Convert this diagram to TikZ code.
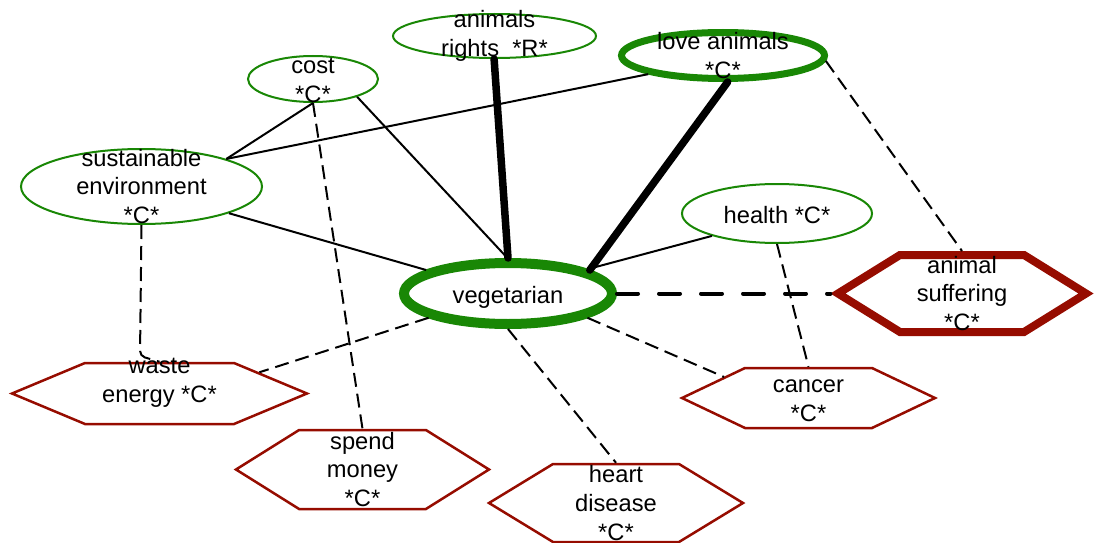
\documentclass[tikz,border=0pt]{standalone}
\usepackage{fontspec}
\setmainfont{Liberation Sans}
\usetikzlibrary{shapes.geometric,shapes.symbols}
\definecolor{ngreen}{RGB}{25,135,5}
\definecolor{nred}{RGB}{150,12,0}
\begin{document}
\begin{tikzpicture}[x=1pt,y=-1pt,
  every node/.style={font=\fontsize{23.7}{28.8}\selectfont, align=center, inner sep=0pt},
  concept/.style={ellipse, draw=ngreen, line width=2pt},
  keyconcept/.style={ellipse, draw=ngreen, line width=7pt},
  outcome/.style={signal, signal to=east and west, draw=nred, line width=2.5pt},
  keyoutcome/.style={outcome, line width=8pt},
  link/.style={line width=2pt},
  strong/.style={line width=7.5pt, line cap=round},
  weak/.style={line width=2pt, dash pattern=on 14pt off 7pt},
  weakbold/.style={line width=4pt, line cap=round, dash pattern=on 21pt off 21pt},
]
\useasboundingbox (0,0) rectangle (1095,543);

% concepts (ellipses)
\node[concept, minimum width=203pt, minimum height=44pt,
      label={center:animals\\rights~~*R*}] (rights) at (494.5,36) {};
\node[keyconcept, minimum width=203pt, minimum height=46pt,
      label={center:love animals\\*C*}] (love) at (723,55.5) {};
\node[concept, minimum width=130pt, minimum height=46pt,
      label={[yshift=-1.5pt]center:cost\\*C*}] (cost) at (313,79) {};
\node[concept, minimum width=241pt, minimum height=75pt,
      label={center:sustainable\\environment\\*C*}] (sust) at (141.5,186.5) {};
\node[concept, minimum width=190pt, minimum height=59pt,
      label={[yshift=-2pt]center:health *C*}] (health) at (777,213.5) {};
\node[keyconcept, line width=10pt, minimum width=208pt, minimum height=61pt,
      label={[yshift=-4pt]center:vegetarian}] (veg) at (508,293.5) {};

% consequences (hexagons)
\node[outcome, minimum width=295pt, minimum height=61pt, signal pointer angle=45.35,
      label={[yshift=11pt]center:waste\\energy *C*}] (waste) at (159.5,393.5) {};
\node[outcome, minimum width=253pt, minimum height=79pt, signal pointer angle=64.1,
      label={center:spend\\money\\*C*}] (spend) at (362.5,469.5) {};
\node[outcome, minimum width=254pt, minimum height=78pt, signal pointer angle=62.7,
      label={center:heart\\disease\\*C*}] (heart) at (616,503) {};
\node[outcome, minimum width=253pt, minimum height=60pt, signal pointer angle=50.9,
      label={[yshift=-3pt]center:cancer\\*C*}] (cancer) at (808.5,398) {};
\node[keyoutcome, minimum width=248pt, minimum height=77pt, signal pointer angle=63.7,
      label={center:animal\\suffering\\*C*}] (suffer) at (962,293.5) {};

\coordinate (wbend) at (140,356);

% solid links
\draw[link] (cost.-90) -- (sust.18);
\draw[link] (cost.-22) -- (veg.91);
\draw[link] (love.-166) -- (sust.18);
\draw[link] (sust.-17) -- (veg.164);
\draw[link] (health.-161) -- (veg.17);
\draw[strong] (rights.-91) -- (veg.90);
\draw[strong] (love.-80) -- (veg.16);

% dashed links
\draw[weak] (love.-3) -- (suffer.north);
\draw[weak, rounded corners=5pt] (sust.-90) -- (wbend) -- (waste.north);
\draw[weak] (cost.-90) -- (spend.north);
\draw[weak] (veg.-163) -- (waste.12);
\draw[weak] (veg.-90) -- (heart.north);
\draw[weak] (veg.-17) -- (cancer.166.5);
\draw[weak] (health.-90) -- (cancer.north);
\draw[weakbold] (veg.east) -- (suffer.west);
\end{tikzpicture}
\end{document}
